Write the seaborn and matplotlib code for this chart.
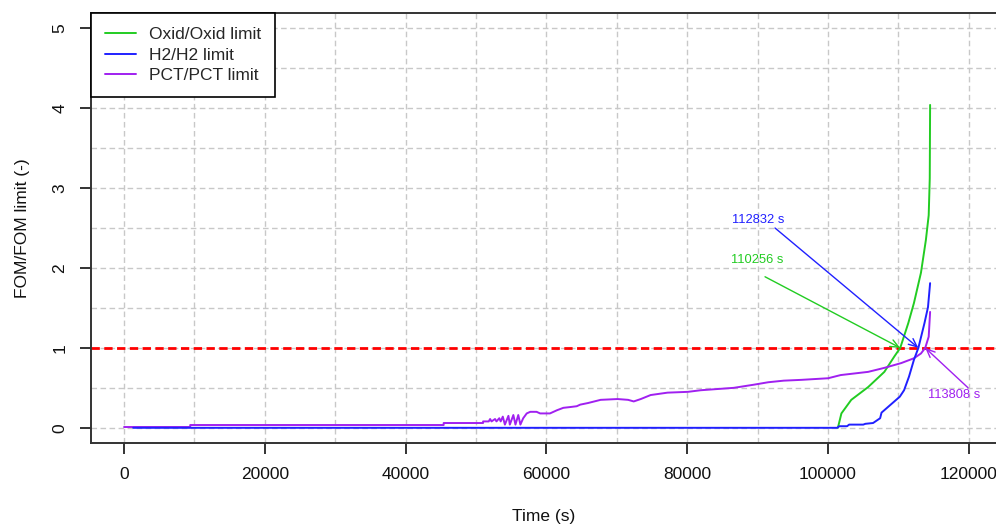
import numpy as np
import pandas as pd
import matplotlib
matplotlib.use("Agg")
import matplotlib.pyplot as plt
import seaborn as sns

# series (time in s, FOM/FOM limit)
oxid_t = [101400, 101900, 103300, 105700, 108000, 109400, 110256, 111400, 112200,
          113200, 113900, 114300, 114450, 114500]
oxid_v = [0.0, 0.18, 0.35, 0.51, 0.70, 0.89, 1.00, 1.31, 1.56, 1.94, 2.35, 2.66, 3.12, 4.04]

h2_t = [1300, 101300, 101600, 102700, 103000, 105000, 105300, 106400, 107400, 107600,
        110200, 110800, 111500, 112200, 112832, 113700, 114200, 114500]
h2_v = [0.0, 0.0, 0.02, 0.02, 0.04, 0.04, 0.05, 0.06, 0.12, 0.19, 0.39, 0.47, 0.64, 0.85,
        1.00, 1.31, 1.51, 1.81]

pct_t = [0, 9400, 9400, 45400, 45400, 51000, 51000, 51800, 52000, 52200, 52700, 52900,
         53300, 53500, 53800, 54100, 54600, 54800, 55300, 55600, 56000, 56300, 56700,
         57200, 57700, 58600, 59100, 60500, 61000, 61500, 62400, 63400, 64300, 64800,
         65900, 67700, 70100, 71600, 72400, 73400, 74800, 77200, 80100, 81900, 86600,
         89500, 91500, 93700, 96200, 100000, 101800, 105700, 108000, 110400, 112200,
         113200, 113808, 114300, 114500]
pct_v = [0.01, 0.01, 0.035, 0.035, 0.06, 0.06, 0.08, 0.08, 0.11, 0.08, 0.11, 0.08,
         0.12, 0.08, 0.14, 0.04, 0.15, 0.04, 0.16, 0.04, 0.16, 0.04, 0.12,
         0.18, 0.20, 0.20, 0.18, 0.18, 0.20, 0.22, 0.25, 0.26, 0.27, 0.29,
         0.31, 0.35, 0.36, 0.35, 0.33, 0.36, 0.41, 0.44, 0.45, 0.47, 0.50,
         0.54, 0.57, 0.59, 0.60, 0.62, 0.66, 0.70, 0.75, 0.81, 0.87,
         0.93, 1.00, 1.14, 1.45]

labels = ["Oxid/Oxid limit", "H2/H2 limit", "PCT/PCT limit"]
colors = ["#22cc22", "#2020ff", "#a020f0"]

# crossing times of the limit
cross_t = [110256, 112832, 113808]
cross_txt = ["110256 s", "112832 s", "113808 s"]

sns.set_theme(style="white")
plt.rcParams["font.family"] = ["Liberation Sans", "DejaVu Sans"]

fig = plt.figure(figsize=(9.96, 5.25), dpi=100)
ax = fig.add_axes([0.0914, 0.1562, 0.9086, 0.819])

ax.set_xlim(-4690, 123860)
ax.set_ylim(-0.19, 5.19)

# grid first so lines sit on top
ax.set_xticks(np.arange(0, 120001, 20000))
ax.set_xticks(np.arange(0, 120001, 10000), minor=True)
ax.set_yticks(np.arange(0, 6, 1))
ax.set_yticks(np.arange(0, 5.01, 0.5), minor=True)
ax.grid(which="both", color="#c8c8c8", linestyle=(0, (4, 2.5)), linewidth=1)
ax.set_axisbelow(True)

ax.axhline(1, color="red", linewidth=2, linestyle=(0, (3, 1.6)), zorder=2)

sns.lineplot(x=oxid_t, y=oxid_v, color=colors[0], lw=1.4, label=labels[0],
             estimator=None, sort=False, ax=ax, zorder=3)
sns.lineplot(x=pct_t, y=pct_v, color=colors[2], lw=1.4, label=labels[2],
             estimator=None, sort=False, ax=ax, zorder=3)
sns.lineplot(x=h2_t, y=h2_v, color=colors[1], lw=1.4, label=labels[1],
             estimator=None, sort=False, ax=ax, zorder=4)

# annotations: text position and arrow tail
txt_pos = [(90000, 2.10), (90060, 2.60), (117900, 0.41)]
tail_pos = [(91050, 1.89), (92470, 2.50), (119900, 0.50)]
ann_col = [colors[0], colors[1], colors[2]]
for t, s, tp, tl, c in zip(cross_t, cross_txt, txt_pos, tail_pos, ann_col):
    ax.annotate("", xy=(t, 1), xytext=tl,
                arrowprops=dict(arrowstyle="->,head_length=0.5,head_width=0.22",
                                color=c, lw=1, shrinkA=0, shrinkB=0), zorder=5)
    ax.text(tp[0], tp[1], s, color=c, fontsize=9.3, ha="center", va="center", zorder=5)

# legend in the R order
h, l = ax.get_legend_handles_labels()
order = [l.index(x) for x in labels]
leg = ax.legend([h[i] for i in order], [l[i] for i in order], loc="upper left",
                bbox_to_anchor=(0, 1), borderaxespad=0, fancybox=False,
                framealpha=1, edgecolor="black", fontsize=12.5,
                handlelength=1.8, handletextpad=0.75, labelspacing=0.32,
                borderpad=0.8)
leg.get_frame().set_linewidth(1.2)

for side in ["left", "bottom", "top"]:
    ax.spines[side].set_color("#333333")
    ax.spines[side].set_linewidth(1.4)
ax.spines["right"].set_visible(False)

ax.tick_params(which="major", direction="out", length=8, width=1.4, color="#333333",
               labelsize=12.5, labelcolor="#111111", bottom=True, left=True)
ax.tick_params(axis="x", pad=9)
ax.tick_params(axis="y", pad=9)
ax.tick_params(which="minor", length=0)
for lab in ax.get_yticklabels():
    lab.set_rotation(90)
    lab.set_va("center")

ax.set_xlabel("Time (s)", fontsize=12.5, labelpad=20, color="#111111")
ax.set_ylabel("FOM/FOM limit (-)", fontsize=12.5, labelpad=16, color="#111111")

fig.savefig("out.png", dpi=100)
